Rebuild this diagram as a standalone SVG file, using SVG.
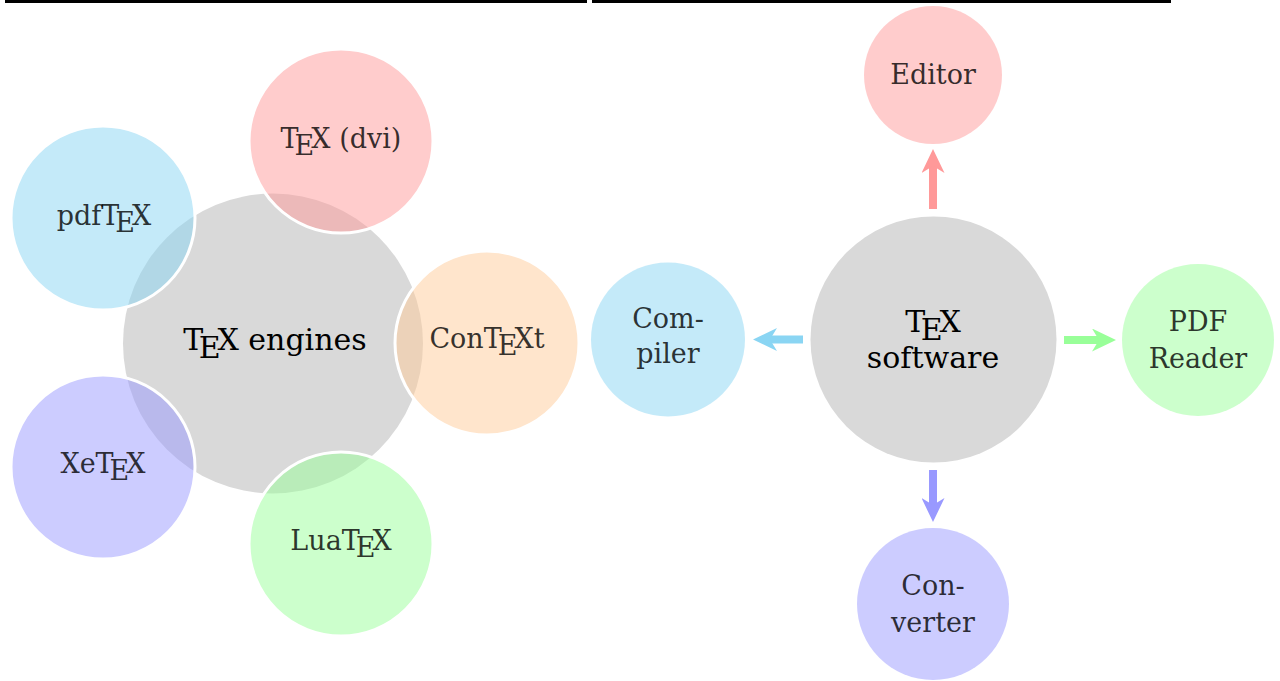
<svg xmlns="http://www.w3.org/2000/svg" width="1280" height="681" viewBox="0 0 1280 681">
  <style>
    text { font-family: "DejaVu Serif", "Liberation Serif", serif; text-anchor: middle; }
    .main { font-size: 30px; fill: #000; }
    .lbl { font-size: 27px; fill: #000; fill-opacity: 0.8; }
    .core { fill: #d9d9d9; }
    .sat { fill-opacity: 0.5; stroke: #fff; stroke-width: 3; }
    .red { fill: #ff9999; }
    .blue { fill: #8ad5f3; }
    .orange { fill: #ffcc99; }
    .green { fill: #99ff99; }
    .purple { fill: #9999ff; }
    .node { fill-opacity: 0.5; }
    .shaft { stroke-width: 8; fill: none; }
  </style>
  <defs>
    <marker id="ah-red" markerUnits="userSpaceOnUse" markerWidth="24" markerHeight="23" viewBox="0 0 24 23" refX="7" refY="11.5" orient="auto">
      <path d="M0,0 L24,11.5 L0,23 L7,11.5 Z" fill="#ff9999"/>
    </marker>
    <marker id="ah-blue" markerUnits="userSpaceOnUse" markerWidth="24" markerHeight="23" viewBox="0 0 24 23" refX="7" refY="11.5" orient="auto">
      <path d="M0,0 L24,11.5 L0,23 L7,11.5 Z" fill="#8ad5f3"/>
    </marker>
    <marker id="ah-green" markerUnits="userSpaceOnUse" markerWidth="24" markerHeight="23" viewBox="0 0 24 23" refX="7" refY="11.5" orient="auto">
      <path d="M0,0 L24,11.5 L0,23 L7,11.5 Z" fill="#99ff99"/>
    </marker>
    <marker id="ah-purple" markerUnits="userSpaceOnUse" markerWidth="24" markerHeight="23" viewBox="0 0 24 23" refX="7" refY="11.5" orient="auto">
      <path d="M0,0 L24,11.5 L0,23 L7,11.5 Z" fill="#9999ff"/>
    </marker>
  </defs>

  <rect x="5" y="0" width="582" height="3" fill="#000"/>
  <rect x="592" y="0" width="579" height="3" fill="#000"/>

  <!-- Left: TeX engines -->
  <g id="engines">
    <circle class="core" cx="273" cy="343.5" r="150"/>
    <text class="main" x="275" y="350">T<tspan dx="-0.15em" dy="0.26em">E</tspan><tspan dx="-0.11em" dy="-0.26em">X</tspan> engines</text>
  </g>
  <g id="tex-dvi">
    <circle class="sat red" cx="341" cy="141" r="92"/>
    <text class="lbl" x="341" y="148">T<tspan dx="-0.15em" dy="0.26em">E</tspan><tspan dx="-0.11em" dy="-0.26em">X</tspan> (dvi)</text>
  </g>
  <g id="pdftex">
    <circle class="sat blue" cx="103" cy="218" r="92"/>
    <text class="lbl" x="104" y="225">pdfT<tspan dx="-0.15em" dy="0.26em">E</tspan><tspan dx="-0.11em" dy="-0.26em">X</tspan></text>
  </g>
  <g id="xetex">
    <circle class="sat purple" cx="103" cy="467" r="92"/>
    <text class="lbl" x="103" y="473">XeT<tspan dx="-0.15em" dy="0.26em">E</tspan><tspan dx="-0.11em" dy="-0.26em">X</tspan></text>
  </g>
  <g id="luatex">
    <circle class="sat green" cx="341" cy="544" r="92"/>
    <text class="lbl" x="341" y="550">LuaT<tspan dx="-0.15em" dy="0.26em">E</tspan><tspan dx="-0.11em" dy="-0.26em">X</tspan></text>
  </g>
  <g id="context">
    <circle class="sat orange" cx="487" cy="343" r="92"/>
    <text class="lbl" x="487" y="348">ConT<tspan dx="-0.15em" dy="0.26em">E</tspan><tspan dx="-0.11em" dy="-0.26em">X</tspan>t</text>
  </g>

  <!-- Right: TeX software -->
  <g id="software">
    <circle class="core" cx="933.5" cy="339.5" r="123"/>
    <text class="main" x="933" y="332">T<tspan dx="-0.15em" dy="0.26em">E</tspan><tspan dx="-0.11em" dy="-0.26em">X</tspan></text>
    <text class="main" x="933" y="368">software</text>
  </g>
  <g id="editor">
    <circle class="node red" cx="933" cy="75" r="69"/>
    <text class="lbl" x="933" y="84">Editor</text>
  </g>
  <g id="compiler">
    <circle class="node blue" cx="668" cy="339.5" r="77"/>
    <text class="lbl" x="668" y="328">Com-</text>
    <text class="lbl" x="668" y="363">piler</text>
  </g>
  <g id="pdf-reader">
    <circle class="node green" cx="1198" cy="340" r="76"/>
    <text class="lbl" x="1198" y="331">PDF</text>
    <text class="lbl" x="1198" y="368">Reader</text>
  </g>
  <g id="converter">
    <circle class="node purple" cx="933" cy="604" r="76"/>
    <text class="lbl" x="933" y="595">Con-</text>
    <text class="lbl" x="933" y="632">verter</text>
  </g>

  <g id="connectors">
    <line class="shaft" x1="933" y1="209" x2="933" y2="166" stroke="#ff9999" marker-end="url(#ah-red)"/>
    <line class="shaft" x1="803" y1="339.5" x2="770" y2="339.5" stroke="#8ad5f3" marker-end="url(#ah-blue)"/>
    <line class="shaft" x1="1064" y1="340" x2="1099" y2="340" stroke="#99ff99" marker-end="url(#ah-green)"/>
    <line class="shaft" x1="933" y1="470" x2="933" y2="505" stroke="#9999ff" marker-end="url(#ah-purple)"/>
  </g>
</svg>
